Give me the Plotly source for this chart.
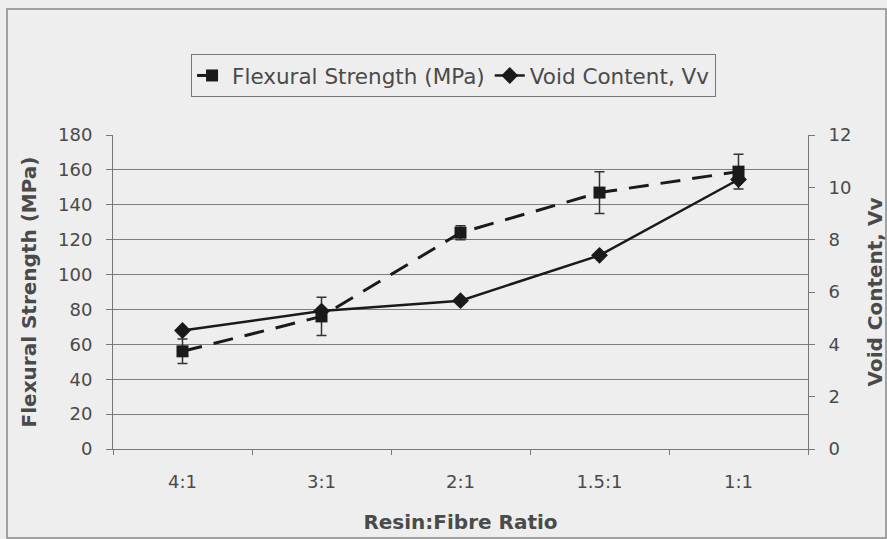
import plotly.graph_objects as go

ratios = ["4:1", "3:1", "2:1", "1.5:1", "1:1"]
flexural = [56, 76, 124, 147, 159]
flexural_err = [7, 11, 4, 12, 10]
void_content = [4.53, 5.27, 5.67, 7.4, 10.3]

FONT = "DejaVu Sans, sans-serif"
BG = "#eeeeee"
TXT = "#4a4a4a"

fig = go.Figure()
fig.add_trace(go.Scatter(
    x=ratios, y=flexural, name="Flexural Strength (MPa)",
    mode="lines+markers",
    line=dict(color="#1a1a1a", width=3, dash="20px,12px"),
    marker=dict(symbol="square", size=12, color="#1a1a1a"),
    error_y=dict(type="data", array=flexural_err, visible=True, color="#333333", thickness=1.5, width=5),
))
fig.add_trace(go.Scatter(
    x=ratios, y=void_content, name="Void Content, Vv", yaxis="y2",
    mode="lines+markers",
    line=dict(color="#1a1a1a", width=2.5),
    marker=dict(symbol="diamond", size=13, color="#1a1a1a"),
))

fig.update_layout(
    width=887, height=539,
    margin=dict(l=113, r=79, t=135, b=90),
    paper_bgcolor=BG, plot_bgcolor=BG,
    font=dict(family=FONT, size=18, color=TXT),
    showlegend=True,
    legend=dict(
        orientation="h", x=0.49, xanchor="center", y=1.258, yanchor="top",
        bgcolor=BG, bordercolor="#777777", borderwidth=1,
        font=dict(family=FONT, size=21.5, color=TXT),
        tracegroupgap=0,
    ),
    xaxis=dict(
        type="category", showline=True, linecolor="#777777", linewidth=1,
        ticks="outside", ticklen=5, tickcolor="#777777", tickson="boundaries",
        showgrid=False, zeroline=False, ticklabelstandoff=16, automargin=False,
        title=dict(text="<b>Resin:Fibre Ratio</b>", font=dict(size=20, color=TXT), standoff=24),
        tickfont=dict(size=18, color=TXT),
        range=[-0.5, 4.5],
    ),
    yaxis=dict(
        range=[0, 180], dtick=20, showline=True, linecolor="#777777", linewidth=1,
        ticks="outside", ticklen=6, tickcolor="#777777", ticklabelstandoff=10,
        showgrid=True, gridcolor="#7d7d7d", gridwidth=1, zeroline=False, automargin=False,
        title=dict(text="<b>Flexural Strength (MPa)</b>", font=dict(size=20, color=TXT), standoff=16),
        tickfont=dict(size=18, color=TXT),
    ),
    yaxis2=dict(
        range=[0, 12], dtick=2, overlaying="y", side="right",
        showline=True, linecolor="#777777", linewidth=1,
        ticks="outside", ticklen=6, tickcolor="#777777", ticklabelstandoff=10,
        showgrid=False, zeroline=False, automargin=False,
        title=dict(text="<b>Void Content, Vv</b>", font=dict(size=20, color=TXT), standoff=18),
        tickfont=dict(size=18, color=TXT),
    ),
    shapes=[dict(
        type="rect", xref="paper", yref="paper",
        x0=-106 / 695, x1=(886 - 113) / 695, y0=-(538 - 449) / 314, y1=(449 - 9) / 314,
        line=dict(color="#888888", width=1.5), fillcolor="rgba(0,0,0,0)", layer="below",
    )],
)

fig.write_html("out.html")
